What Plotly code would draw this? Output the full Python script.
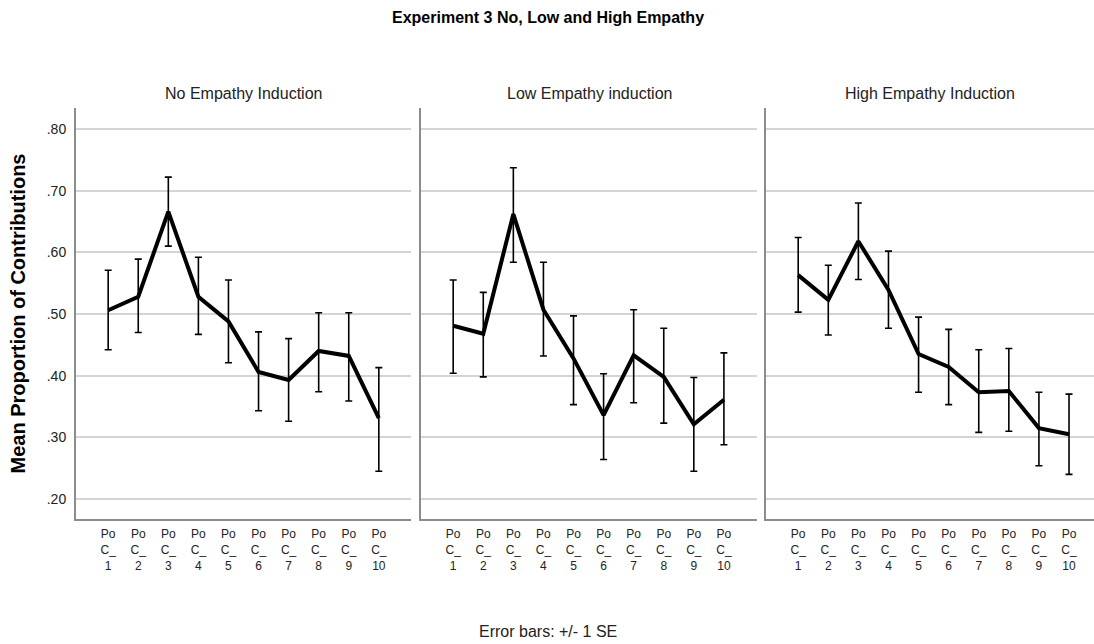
import plotly.graph_objects as go

categories = [f"PoC_{i}" for i in range(1, 11)]
tick_labels = [f"Po<br>C_<br>{i}" for i in range(1, 11)]
panel_titles = ["No Empathy Induction", "Low Empathy induction", "High Empathy Induction"]

no_mean = [0.506, 0.528, 0.666, 0.528, 0.488, 0.406, 0.393, 0.440, 0.432, 0.331]
no_upper = [0.571, 0.589, 0.722, 0.592, 0.555, 0.471, 0.460, 0.502, 0.502, 0.413]
no_lower = [0.442, 0.470, 0.610, 0.467, 0.421, 0.343, 0.326, 0.374, 0.359, 0.245]

low_mean = [0.481, 0.468, 0.662, 0.507, 0.428, 0.336, 0.433, 0.398, 0.321, 0.361]
low_upper = [0.555, 0.535, 0.737, 0.584, 0.497, 0.403, 0.507, 0.477, 0.397, 0.437]
low_lower = [0.404, 0.398, 0.584, 0.432, 0.353, 0.264, 0.356, 0.323, 0.245, 0.288]

high_mean = [0.563, 0.523, 0.618, 0.539, 0.435, 0.414, 0.373, 0.375, 0.315, 0.305]
high_upper = [0.624, 0.579, 0.680, 0.602, 0.495, 0.475, 0.442, 0.444, 0.373, 0.370]
high_lower = [0.503, 0.466, 0.556, 0.477, 0.373, 0.353, 0.308, 0.310, 0.254, 0.240]

y_ticks = [0.20, 0.30, 0.40, 0.50, 0.60, 0.70, 0.80]
y_tick_text = [".20", ".30", ".40", ".50", ".60", ".70", ".80"]

FONT = "Arial, Liberation Sans, sans-serif"
W, H = 1094, 644

panels = [
    (no_mean, no_upper, no_lower),
    (low_mean, low_upper, low_lower),
    (high_mean, high_upper, high_lower),
]
x_px = [(76, 411), (421, 757), (766, 1094)]
x_ranges = [[-1.07, 10.07], [-1.07, 10.1], [-1.07, 9.83]]
y_dom = [(H - 519) / H, (H - 108) / H]
y_range = [0.1676, 0.834]

fig = go.Figure()
xidx = list(range(len(categories)))
for i, (m, up, lo) in enumerate(panels):
    sfx = "" if i == 0 else str(i + 1)
    fig.add_trace(go.Scatter(
        x=xidx, y=m, mode="lines",
        line=dict(color="black", width=4),
        error_y=dict(type="data", symmetric=False,
                     array=[u - v for u, v in zip(up, m)],
                     arrayminus=[v - l for v, l in zip(m, lo)],
                     color="black", thickness=1.6, width=3.5),
        xaxis="x" + sfx, yaxis="y" + sfx, showlegend=False,
        hoverinfo="skip",
    ))
    dom = [x_px[i][0] / W, x_px[i][1] / W]
    fig.layout["xaxis" + sfx] = dict(
        domain=dom, range=x_ranges[i], tickvals=xidx, ticktext=tick_labels,
        showgrid=False, zeroline=False, showline=True, linecolor="#8c8c8c",
        linewidth=2, ticks="", tickangle=0, ticklabelstandoff=3,
        tickfont=dict(family=FONT, size=12, color="#222"), anchor="y" + sfx,
    )
    fig.layout["yaxis" + sfx] = dict(
        domain=y_dom, range=y_range, tickvals=y_ticks, ticktext=y_tick_text,
        showticklabels=(i == 0), showgrid=True, gridcolor="#d4d4d4", gridwidth=1.5,
        zeroline=False, showline=True, linecolor="#8c8c8c", linewidth=2,
        ticks="", tickfont=dict(family=FONT, size=14, color="#222"),
        ticklabelstandoff=5, anchor="x" + sfx,
    )
    fig.add_annotation(
        text=panel_titles[i], x=(dom[0] + dom[1]) / 2, y=(H - 93) / H,
        xref="paper", yref="paper", showarrow=False,
        font=dict(family=FONT, size=16, color="#222"),
        xanchor="center", yanchor="middle",
    )

fig.layout.yaxis.title = dict(text="<b>Mean Proportion of Contributions</b>",
                              font=dict(family=FONT, size=20, color="black"), standoff=16)

fig.add_annotation(text="<b>Experiment 3 No, Low and High Empathy</b>",
                   x=548 / W, y=(H - 17) / H, xref="paper", yref="paper",
                   showarrow=False, font=dict(family=FONT, size=16, color="black"),
                   xanchor="center", yanchor="middle")
fig.add_annotation(text="Error bars: +/- 1 SE",
                   x=548 / W, y=(H - 631) / H, xref="paper", yref="paper",
                   showarrow=False, font=dict(family=FONT, size=16, color="#222"),
                   xanchor="center", yanchor="middle")

fig.update_layout(
    width=W, height=H, margin=dict(l=0, r=0, t=0, b=0),
    plot_bgcolor="white", paper_bgcolor="white",
    font=dict(family=FONT),
)
fig.write_html("out.html", config={"displayModeBar": False},
               post_script="document.body.style.margin='0';document.body.style.padding='0';")
